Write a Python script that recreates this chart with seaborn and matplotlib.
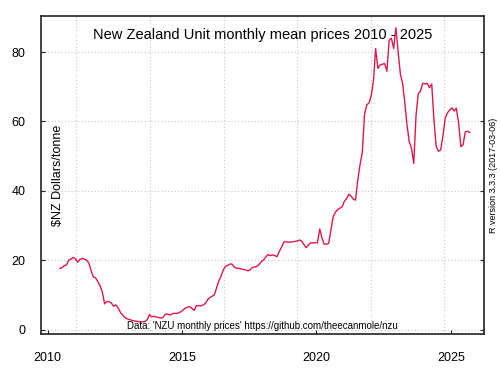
import matplotlib
matplotlib.use("Agg")
import matplotlib.pyplot as plt
import matplotlib.dates as mdates
import seaborn as sns
import pandas as pd

# NZU monthly mean prices, May 2010 - Aug 2025
first_month = "2010-05-15"
prices = [
    17.6, 17.8, 18.4, 18.6, 20.0, 20.3, 20.8, 20.4,                      # 2010
    19.4, 20.2, 20.5, 20.3, 20.0, 19.2, 17.0, 15.2, 14.9, 13.8, 12.6, 10.8,  # 2011
    7.4, 8.1, 8.0, 7.7, 6.7, 7.1, 6.3, 5.0, 4.2, 3.5, 3.1, 2.9,          # 2012
    2.7, 2.5, 2.4, 2.3, 2.2, 2.2, 2.3, 2.8, 4.3, 3.7, 3.8, 3.6,          # 2013
    3.5, 3.3, 3.4, 4.3, 4.5, 4.2, 4.4, 4.7, 4.6, 4.8, 5.1, 5.6,          # 2014
    6.2, 6.4, 6.6, 6.1, 5.5, 6.9, 6.9, 6.8, 7.1, 7.5, 8.6, 9.2,          # 2015
    9.6, 10.0, 12.0, 14.0, 15.4, 17.2, 18.2, 18.5, 18.9, 18.8, 17.9, 17.7,  # 2016
    17.6, 17.5, 17.3, 17.2, 16.9, 17.2, 17.9, 18.0, 18.2, 18.8, 19.6, 20.1,  # 2017
    21.0, 21.6, 21.3, 21.5, 21.3, 21.0, 22.5, 23.8, 25.2, 25.3, 25.2, 25.2,  # 2018
    25.3, 25.4, 25.5, 25.8, 25.5, 24.5, 23.6, 24.4, 25.0, 25.0, 25.0, 25.0,  # 2019
    29.0, 26.5, 24.6, 24.6, 24.8, 28.5, 32.5, 33.8, 34.6, 35.0, 35.4, 37.0,  # 2020
    37.8, 39.0, 38.5, 37.6, 37.3, 43.0, 47.5, 51.0, 62.0, 64.8, 65.3, 67.5,  # 2021
    72.0, 81.0, 75.3, 76.3, 76.5, 76.7, 74.5, 83.4, 84.0, 81.0, 87.0, 80.0,  # 2022
    73.5, 71.2, 65.5, 59.0, 54.1, 52.3, 47.9, 61.8, 68.0, 68.8, 71.0, 70.8,  # 2023
    71.0, 69.7, 70.8, 60.5, 52.7, 51.4, 51.8, 56.0, 61.0, 62.5, 63.3, 63.9,  # 2024
    63.0, 63.8, 59.5, 52.7, 53.3, 57.0, 57.2, 56.8,                      # 2025
]
year_ticks = [2010, 2015, 2020, 2025]
price_ticks = [0, 20, 40, 60, 80]
grid_days = [15000, 16000, 17000, 18000, 19000, 20000]  # R grid() on a Date axis

dates = pd.date_range(first_month, periods=len(prices), freq="MS") + pd.Timedelta(days=14)
df = pd.DataFrame({"date": dates, "price": prices})

sns.set_theme(style="ticks")
plt.rcParams["font.family"] = ["Liberation Sans", "DejaVu Sans"]
plt.rcParams["text.color"] = "black"

fig = plt.figure(figsize=(5, 3.75), dpi=100)
ax = fig.add_axes([0.082, 0.1093, 0.886, 0.848])

# grid first so the line sits on top
for v in price_ticks:
    ax.axhline(v, color="#c8c8c8", lw=0.8, ls=(0, (1, 2)), zorder=0)
for d in grid_days:
    ax.axvline(d, color="#c8c8c8", lw=0.8, ls=(0, (1, 2)), zorder=0)

sns.lineplot(data=df, x="date", y="price", ax=ax, color="#e0174f", lw=1.0)

ax.set_xlim(14521, 20538)
ax.set_ylim(-1.3, 90.4)
ax.set_xticks([mdates.date2num(pd.Timestamp(f"{y}-01-01")) for y in year_ticks])
ax.set_xticklabels([str(y) for y in year_ticks])
ax.set_yticks(price_ticks)
ax.tick_params(axis="both", direction="in", length=3, width=0.8, labelsize=9,
               color="#222222", labelcolor="black")
ax.tick_params(axis="x", pad=13)
ax.tick_params(axis="y", pad=11, right=True)
for s in ax.spines.values():
    s.set_color("#222222")
    s.set_linewidth(1.2)
ax.set_xlabel("")
ax.set_ylabel("")

ax.text(0.5, 0.94, "New Zealand Unit monthly mean prices 2010 - 2025",
        transform=ax.transAxes, ha="center", va="center", fontsize=10.5)
ax.text(0.038, 0.5, "$NZ Dollars/tonne", transform=ax.transAxes, rotation=90,
        ha="center", va="center", fontsize=9)
ax.text(0.5, 0.025, "Data: 'NZU monthly prices' https://github.com/theecanmole/nzu",
        transform=ax.transAxes, ha="center", va="center", fontsize=7)
fig.text(0.986, 0.533, "R version 3.3.3 (2017-03-06)", rotation=90,
         ha="center", va="center", fontsize=6.5)

fig.savefig("out.png", dpi=100, facecolor="white")
